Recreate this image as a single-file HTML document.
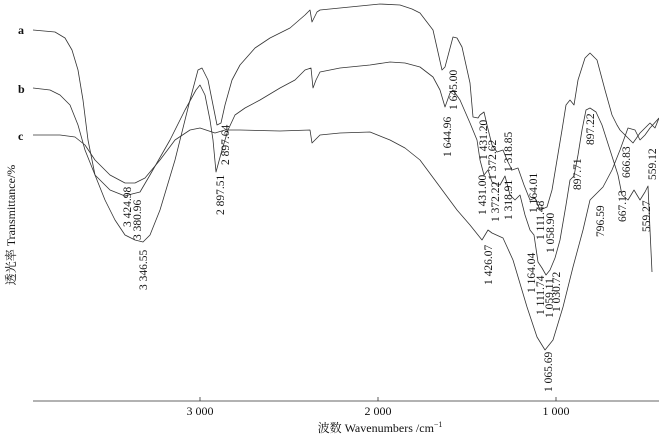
<!DOCTYPE html>
<html><head><meta charset="utf-8"><style>
html,body{margin:0;padding:0;background:#fff;}
svg{display:block;}
text{font-family:"Liberation Serif","Noto Serif CJK SC",serif;fill:#111;}
</style></head><body>
<svg width="659" height="439" viewBox="0 0 659 439" xmlns="http://www.w3.org/2000/svg">
<g fill="none" stroke="#333" stroke-width="0.8" stroke-linejoin="round">
<!-- curve a -->
<polyline points="33,30 55,32 65,38 72,50 78,70 83,100 88,140 95,175 105,200 115,220 125,235 135,240 143,242 150,235 160,210 175,160 190,100 198,70 202,68 208,80 213,105 217,125 221,123 225,105 232,80 240,65 255,48 270,38 290,28 305,15 310,10 312,22 314,18 317,12 320,10 340,8 360,6 380,4 400,5 412,9 420,13 433,30 442,70 445,67 453,37 457,38 462,47 470,83 473,117 478,118 480,115 484,112 487,125 492,145 497,152 503,150 507,160 512,170 518,168 524,185 530,200 535,198 540,210 547,207 552,190 557,160 562,130 566,105 570,100 574,105 578,80 585,58 590,53 597,60 605,90 612,115 617,125 620,130 626,136 633,143 640,133 645,128 650,123 655,128 659,118"/>
<!-- curve b -->
<polyline points="33,88 50,90 60,95 70,105 78,125 85,150 95,175 110,190 125,196 132,194 140,192 150,175 170,140 185,110 196,90 200,85 205,95 210,120 213,140 216,172 222,150 228,130 235,115 245,108 260,100 280,88 295,80 305,70 311,68 313,88 316,80 320,72 340,68 370,65 390,62 405,63 420,67 433,77 440,90 445,107 450,93 453,90 460,100 470,123 477,140 480,160 484,175 488,170 492,182 500,185 505,176 510,195 515,200 520,195 525,215 530,230 534,235 538,262 542,268 546,275 550,270 555,258 560,240 566,205 570,180 574,176 578,155 582,130 586,110 590,108 596,112 602,125 610,150 618,175 622,195 628,200 634,190 640,200 645,192 648,186 650,230 652,272"/>
<!-- curve c -->
<polyline points="33,135 60,135 75,137 85,145 95,160 110,175 125,183 135,183 145,178 160,160 175,140 190,130 200,128 215,133 225,130 240,130 280,131 310,130 312,143 315,140 320,135 340,133 370,132 390,140 405,148 420,160 440,187 457,210 470,225 482,240 488,230 492,233 503,238 513,260 527,307 537,337 545,350 553,340 563,307 573,267 583,230 590,200 597,193 603,187 612,170 620,150 628,128 635,130 640,140 645,135 650,128 659,118"/>
<!-- x axis -->
<line x1="33" y1="401" x2="659" y2="401"/>
<line x1="200" y1="397" x2="200" y2="401"/>
<line x1="378" y1="397" x2="378" y2="401"/>
<line x1="556" y1="397" x2="556" y2="401"/>
</g>
<g font-size="12">
<text x="200" y="415" text-anchor="middle">3 000</text>
<text x="378" y="415" text-anchor="middle">2 000</text>
<text x="556" y="415" text-anchor="middle">1 000</text>
<text x="380" y="432" text-anchor="middle">波数  Wavenumbers /cm<tspan font-size="8" dy="-5">−1</tspan></text>
<text x="18" y="34" font-weight="bold">a</text>
<text x="18" y="93" font-weight="bold">b</text>
<text x="18" y="140" font-weight="bold">c</text>
<text transform="translate(15,225) rotate(-90)" text-anchor="middle">透光率 Transmittance/%</text>
</g>
<g font-size="11.5">
<text transform="translate(131,227) rotate(-90)">3 424.98</text>
<text transform="translate(141,240) rotate(-90)">3 380.96</text>
<text transform="translate(147,290) rotate(-90)">3 346.55</text>
<text transform="translate(229,165) rotate(-90)">2 897.64</text>
<text transform="translate(224,215) rotate(-90)">2 897.51</text>
<text transform="translate(451,157) rotate(-90)">1 644.96</text>
<text transform="translate(457,110) rotate(-90)">1 645.00</text>
<text transform="translate(487,160) rotate(-90)">1 431.20</text>
<text transform="translate(486,215) rotate(-90)">1 431.00</text>
<text transform="translate(496,180) rotate(-90)">1 372.62</text>
<text transform="translate(499,222) rotate(-90)">1 372.22</text>
<text transform="translate(512,172) rotate(-90)">1 318.85</text>
<text transform="translate(512,220) rotate(-90)">1 318.91</text>
<text transform="translate(537,213) rotate(-90)">1 164.01</text>
<text transform="translate(544,240) rotate(-90)">1 111.48</text>
<text transform="translate(554,253) rotate(-90)">1 058.90</text>
<text transform="translate(492,285) rotate(-90)">1 426.07</text>
<text transform="translate(535,293) rotate(-90)">1 164.04</text>
<text transform="translate(544,315) rotate(-90)">1 111.74</text>
<text transform="translate(553,318) rotate(-90)">1 059.11</text>
<text transform="translate(560,312) rotate(-90)">1 030.72</text>
<text transform="translate(552,392) rotate(-90)">1 065.69</text>
<text transform="translate(581,190) rotate(-90)">897.71</text>
<text transform="translate(594,145) rotate(-90)">897.22</text>
<text transform="translate(604,237) rotate(-90)">796.59</text>
<text transform="translate(630,178) rotate(-90)">666.83</text>
<text transform="translate(626,222) rotate(-90)">667.13</text>
<text transform="translate(650,232) rotate(-90)">559.27</text>
<text transform="translate(656,180) rotate(-90)">559.12</text>
</g>
</svg>
</body></html>
